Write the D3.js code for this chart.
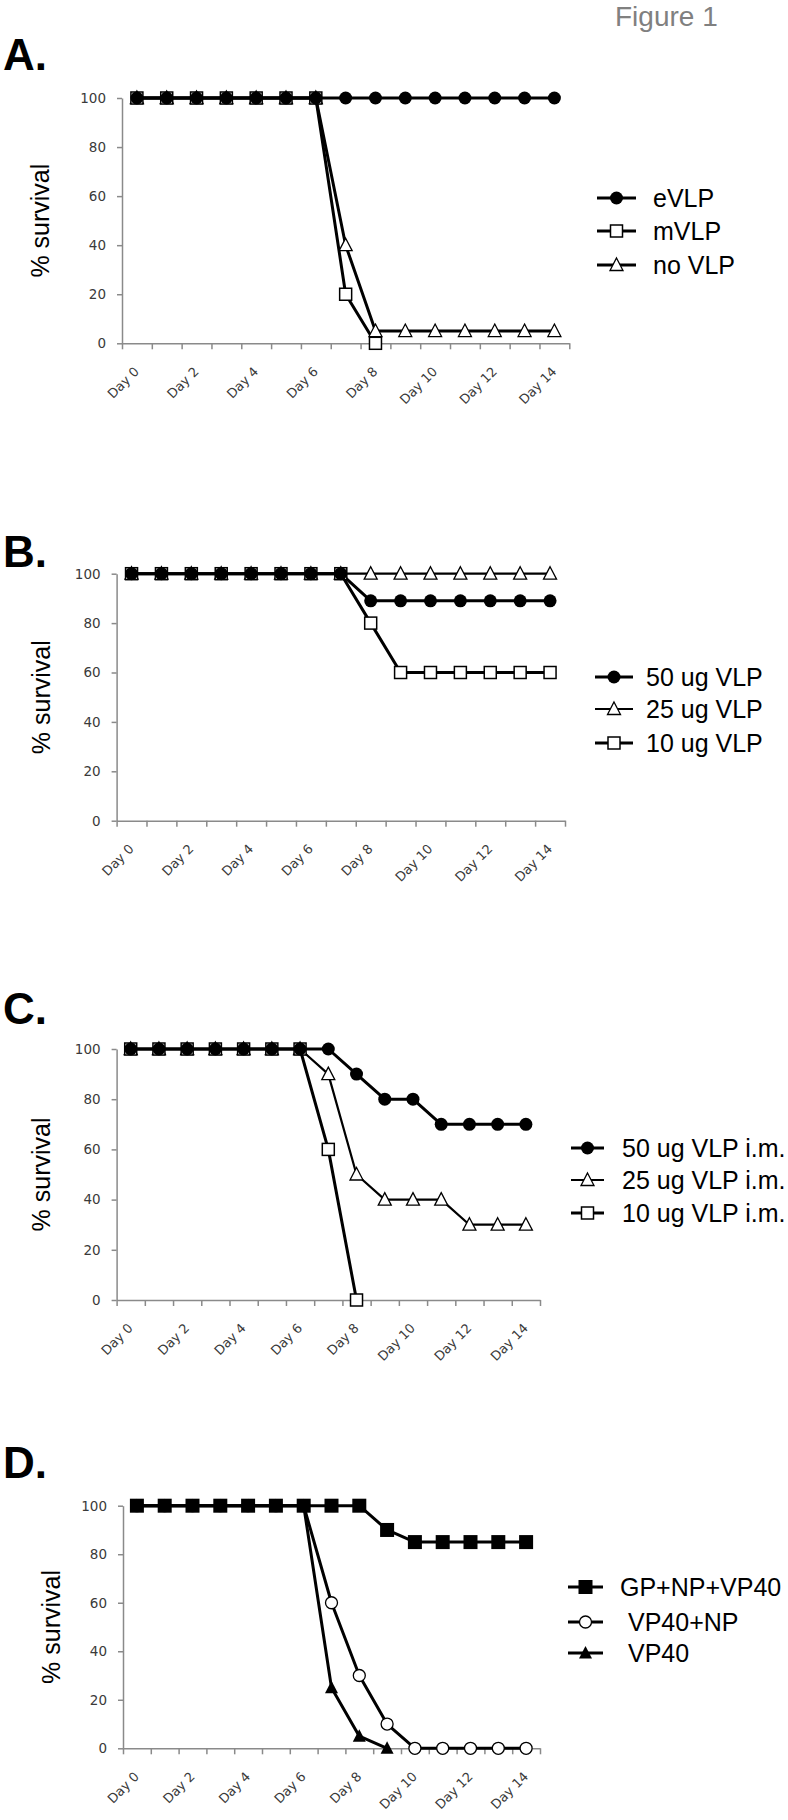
<!DOCTYPE html>
<html><head><meta charset="utf-8">
<script src="https://cdn.jsdelivr.net/npm/d3@7"></script>
<style>body{margin:0;background:#fff}</style>
</head><body>
<svg id="c" width="788" height="1820"></svg>
<script>
// ---------- DATA ----------
const days = d3.range(15).map(d => "Day " + d);
const dayTickLabels = ["Day 0","Day 2","Day 4","Day 6","Day 8","Day 10","Day 12","Day 14"];
const yTicks = [0, 20, 40, 60, 80, 100];
const panelLetters = ["A.", "B.", "C.", "D."];
const figureTitle = "Figure 1";
const yTitle = "% survival";

// Panel A
const aNames = ["eVLP", "mVLP", "no VLP"];
const aEVLP  = [100,100,100,100,100,100,100,100,100,100,100,100,100,100,100];
const aMVLP  = [100,100,100,100,100,100,100,20,0,null,null,null,null,null,null];
const aNoVLP = [100,100,100,100,100,100,100,40,5,5,5,5,5,5,5];

// Panel B
const bNames = ["50 ug VLP", "25 ug VLP", "10 ug VLP"];
const b50 = [100,100,100,100,100,100,100,100,89,89,89,89,89,89,89];
const b25 = [100,100,100,100,100,100,100,100,100,100,100,100,100,100,100];
const b10 = [100,100,100,100,100,100,100,100,80,60,60,60,60,60,60];

// Panel C
const cNames = ["50 ug VLP i.m.", "25 ug VLP i.m.", "10 ug VLP i.m."];
const c50 = [100,100,100,100,100,100,100,100,90,80,80,70,70,70,70];
const c25 = [100,100,100,100,100,100,100,90,50,40,40,40,30,30,30];
const c10 = [100,100,100,100,100,100,100,60,0,null,null,null,null,null,null];

// Panel D
const dNames = ["GP+NP+VP40", "VP40+NP", "VP40"];
const dGP   = [100,100,100,100,100,100,100,100,100,90,85,85,85,85,85];
const dVPNP = [100,100,100,100,100,100,100,60,30,10,0,0,0,0,0];
const dVP   = [100,100,100,100,100,100,100,25,5,0,null,null,null,null,null];

// ---------- LAYOUT ----------
const panels = [
  { letter: panelLetters[0], letterY: 70, x0: 122, x1: 569.3, yTop: 98, yBot: 343.3, titleX: 49,
    legLine: [597, 636], legText: [653, 653, 653], legRows: [198, 231, 265],
    series: [
      { name: aNames[0], values: aEVLP,  marker: "circleFilled", lw: 3, z: 3 },
      { name: aNames[1], values: aMVLP,  marker: "squareOpen",   lw: 3, z: 2 },
      { name: aNames[2], values: aNoVLP, marker: "triangleOpen", lw: 3, z: 1 } ] },
  { letter: panelLetters[1], letterY: 567, x0: 116.6, x1: 565, yTop: 573.7, yBot: 820.7, titleX: 50,
    legLine: [595, 633], legText: [646, 646, 646], legRows: [677, 709, 743],
    series: [
      { name: bNames[0], values: b50, marker: "circleFilled", lw: 3,   z: 3 },
      { name: bNames[1], values: b25, marker: "triangleOpen", lw: 2.2, z: 1 },
      { name: bNames[2], values: b10, marker: "squareOpen",   lw: 3,   z: 2 } ] },
  { letter: panelLetters[2], letterY: 1024, x0: 116.6, x1: 540, yTop: 1049, yBot: 1300, titleX: 50,
    legLine: [571, 604], legText: [622, 622, 622], legRows: [1148, 1180, 1213],
    series: [
      { name: cNames[0], values: c50, marker: "circleFilled", lw: 3,   z: 3 },
      { name: cNames[1], values: c25, marker: "triangleOpen", lw: 2.2, z: 1 },
      { name: cNames[2], values: c10, marker: "squareOpen",   lw: 3,   z: 2 } ] },
  { letter: panelLetters[3], letterY: 1478, x0: 123, x1: 540, yTop: 1505.7, yBot: 1748.3, titleX: 60,
    legLine: [568, 603], legText: [620, 628, 628], legRows: [1587, 1622, 1653],
    series: [
      { name: dNames[0], values: dGP,   marker: "squareFilled",   lw: 3, z: 3 },
      { name: dNames[1], values: dVPNP, marker: "circleOpen",     lw: 3, z: 1 },
      { name: dNames[2], values: dVP,   marker: "triangleFilled", lw: 3, z: 2 } ] }
];

const svg = d3.select("#c");
const AXIS = "#8a8a8a";
const TICKTXT = "#3a3a3a";
const SANS = "'Liberation Sans', Arial, sans-serif";
const TICKFONT = "'DejaVu Sans', sans-serif";

svg.append("text").attr("x", 615).attr("y", 26)
  .attr("font-family", SANS).attr("font-size", 28).attr("fill", "#808080")
  .text(figureTitle);

function drawMarker(g, type, x, y) {
  switch (type) {
    case "circleFilled":
      g.append("circle").attr("cx", x).attr("cy", y).attr("r", 6.5).attr("fill", "#000"); break;
    case "circleOpen":
      g.append("circle").attr("cx", x).attr("cy", y).attr("r", 6).attr("fill", "#fff")
        .attr("stroke", "#000").attr("stroke-width", 1.3); break;
    case "squareOpen":
      g.append("rect").attr("x", x - 6).attr("y", y - 6).attr("width", 12).attr("height", 12)
        .attr("fill", "#fff").attr("stroke", "#000").attr("stroke-width", 1.5); break;
    case "squareFilled":
      g.append("rect").attr("x", x - 7).attr("y", y - 7).attr("width", 14).attr("height", 14)
        .attr("fill", "#000"); break;
    case "triangleOpen":
      g.append("path").attr("d", `M${x},${y - 7}L${x + 6.5},${y + 5.5}L${x - 6.5},${y + 5.5}Z`)
        .attr("fill", "#fff").attr("stroke", "#000").attr("stroke-width", 1.3); break;
    case "triangleFilled":
      g.append("path").attr("d", `M${x},${y - 7}L${x + 6.5},${y + 5.5}L${x - 6.5},${y + 5.5}Z`)
        .attr("fill", "#000"); break;
  }
}

panels.forEach(p => {
  const g = svg.append("g");
  const x = d3.scaleBand().domain(days).range([p.x0, p.x1]).padding(0);
  const xEdge = d3.scaleLinear().domain([0, days.length]).range([p.x0, p.x1]);
  const y = d3.scaleLinear().domain([0, 100]).range([p.yBot, p.yTop]);
  const cx = d => x(d) + x.bandwidth() / 2;

  svg.append("text").attr("x", 3).attr("y", p.letterY)
    .attr("font-family", SANS).attr("font-weight", "bold").attr("font-size", 44)
    .attr("fill", "#000").text(p.letter);

  const ya = g.append("g").attr("transform", `translate(${p.x0},0)`)
    .call(d3.axisLeft(y).tickValues(yTicks).tickSize(5).tickPadding(11).tickSizeOuter(0));
  ya.select(".domain").attr("stroke", AXIS).attr("stroke-width", 1.5);
  ya.selectAll(".tick line").attr("stroke", AXIS).attr("stroke-width", 1.5);
  ya.selectAll("text").attr("font-family", TICKFONT).attr("font-size", 13.5).attr("fill", TICKTXT);

  const xa = g.append("g").attr("transform", `translate(0,${p.yBot})`)
    .call(d3.axisBottom(xEdge).tickValues(d3.range(days.length + 1)).tickSize(6).tickSizeOuter(0).tickFormat(""));
  xa.select(".domain").attr("stroke", AXIS).attr("stroke-width", 1.5);
  xa.selectAll(".tick line").attr("stroke", AXIS).attr("stroke-width", 1.5);

  g.selectAll(".daylab").data(dayTickLabels).enter().append("text")
    .attr("transform", d => `translate(${cx(d) + 3},${p.yBot + 29}) rotate(-45)`)
    .attr("text-anchor", "end")
    .attr("font-family", TICKFONT).attr("font-size", 13).attr("fill", TICKTXT)
    .text(d => d);

  svg.append("text")
    .attr("transform", `translate(${p.titleX},${(p.yTop + p.yBot) / 2}) rotate(-90)`)
    .attr("text-anchor", "middle")
    .attr("font-family", SANS).attr("font-size", 25).attr("fill", "#000")
    .text(yTitle);

  const line = d3.line().defined(d => d.v != null).x(d => cx(d.day)).y(d => y(d.v));
  const ordered = p.series.slice().sort((a, b) => a.z - b.z);
  ordered.forEach(s => {
    const pts = s.values.map((v, i) => ({ day: days[i], v }));
    g.append("path").datum(pts).attr("d", line)
      .attr("fill", "none").attr("stroke", "#000").attr("stroke-width", s.lw)
      .attr("stroke-linejoin", "round");
  });
  ordered.forEach(s => {
    const mg = g.append("g");
    s.values.forEach((v, i) => { if (v != null) drawMarker(mg, s.marker, cx(days[i]), y(v)); });
  });

  p.series.forEach((s, i) => {
    const ry = p.legRows[i];
    g.append("line").attr("x1", p.legLine[0]).attr("x2", p.legLine[1]).attr("y1", ry).attr("y2", ry)
      .attr("stroke", "#000").attr("stroke-width", s.lw);
    drawMarker(g, s.marker, (p.legLine[0] + p.legLine[1]) / 2, ry);
    g.append("text").attr("x", p.legText[i]).attr("y", ry).attr("dy", "0.35em")
      .attr("font-family", SANS).attr("font-size", 25).attr("fill", "#000")
      .text(s.name);
  });
});
</script>
</body></html>
